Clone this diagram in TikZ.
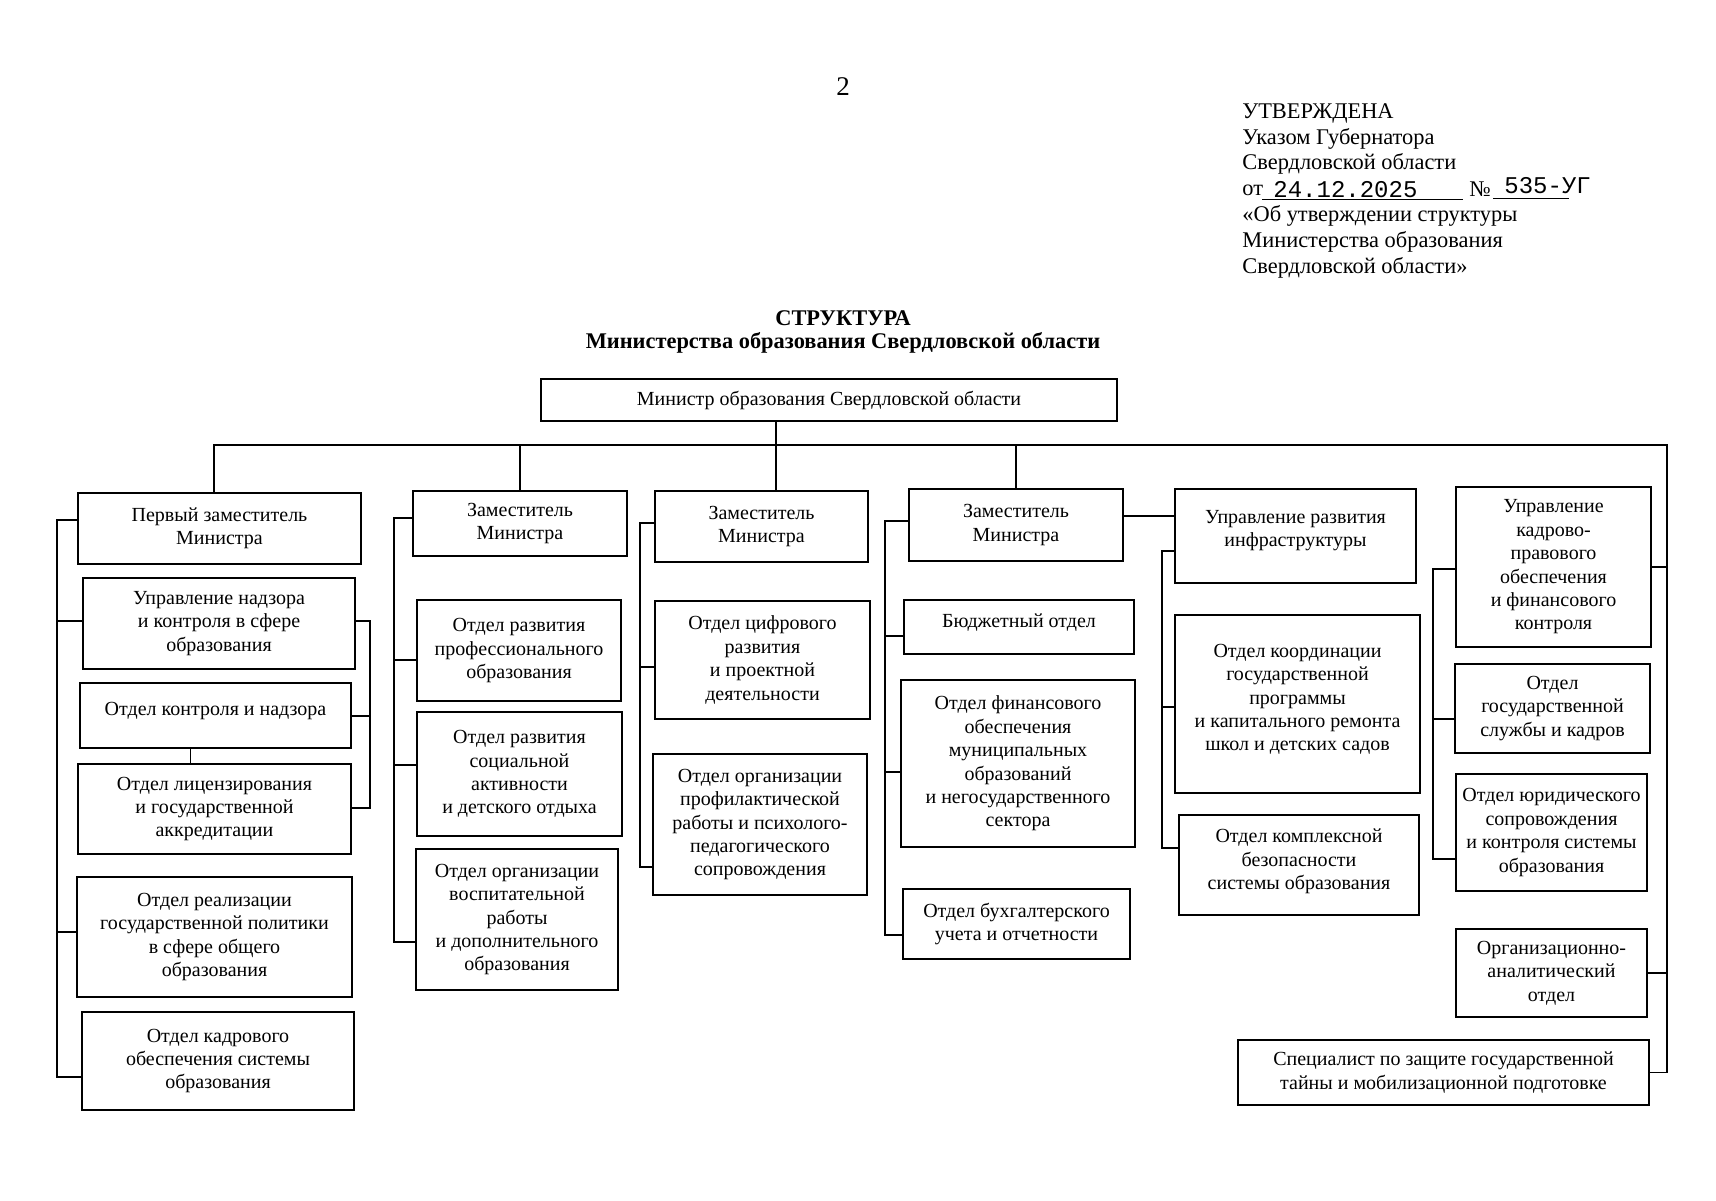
\documentclass[tikz,border=0pt]{standalone}
\usepackage{fontspec}
\setmainfont{Liberation Serif}
\newfontfamily\stampFont{Liberation Mono}
\usetikzlibrary{calc}

\newcommand{\boxFont}{\fontsize{10}{11.7}\selectfont}
\newcommand{\headFont}{\fontsize{11.2}{12.9}\selectfont}
\newcommand{\titleFont}{\fontsize{11.2}{11.5}\selectfont\bfseries}
\newcommand{\stampSize}{\stampFont\fontsize{12}{12}\selectfont}

\tikzset{boxDim/.style 2 args={minimum width=#1*0.5pt, minimum height=#2*0.5pt}}

\begin{document}
\begin{tikzpicture}[
		x=0.5pt, y=-0.5pt,
		% Node styles
		unitBox/.style={draw, line width=1pt, align=center, inner sep=0pt, font=\boxFont},
		headText/.style={align=left, anchor=base west, inner sep=0pt, font=\headFont},
		stampText/.style={anchor=base west, inner sep=0pt, font=\stampSize},
		% Line styles
		linkLine/.style={line width=0.6pt},
		formLine/.style={line width=0.5pt}
		]
		
		\fill[white] (0,0) rectangle (1716,1200);
		\useasboundingbox (0,0) rectangle (1716,1200);
		
		% =========================================================
		% 1. PAGE HEADER
		% =========================================================
		
		\node[font=\fontsize{13.5}{14}\selectfont, anchor=base, inner sep=0pt] (pageNo) at (843,95) {2};
		
		% base anchor = last line of the block
		\node[headText] (approval) at (1242,273) {УТВЕРЖДЕНА\\Указом Губернатора\\Свердловской области\\от\\«Об утверждении структуры\\Министерства образования\\Свердловской области»};
		
		% date and number of the decree
		\node[stampText] (dateStamp) at (1273,197) {24.12.2025};
		\node[headText] (numSign) at (1469,196) {№};
		\node[stampText] (numStamp) at (1504,193) {535-УГ};
		\draw[formLine] (1262,199) -- (1463,199);
		\draw[formLine] (1493,198) -- (1569,198);
		
		\node[font=\titleFont, align=center, anchor=base, inner sep=0pt] (title) at (843,348) {СТРУКТУРА\\Министерства образования Свердловской области};
		
		% =========================================================
		% 2. BOXES
		% =========================================================
		
		\node[unitBox, boxDim={576}{42}] (minister) at (829,400) {Министр образования Свердловской области};
		
		% First deputy
		\node[unitBox, boxDim={283}{71}] (zam1) at (219.5,528.5) {Первый заместитель\\Министра};
		\node[unitBox, boxDim={272}{91}] (upr1) at (219,623.5) {Управление надзора\\и контроля в сфере\\образования};
		\node[unitBox, boxDim={271}{65}, text depth=6.6pt] (ok1) at (215.5,715.5) {Отдел контроля и надзора};
		\node[unitBox, boxDim={273}{90}] (lic1) at (214.5,809) {Отдел лицензирования\\и государственной\\аккредитации};
		\node[unitBox, boxDim={275}{120}] (real1) at (214.5,937) {Отдел реализации\\государственной политики\\в сфере общего\\образования};
		\node[unitBox, boxDim={272}{98}] (kadr1) at (218,1061) {Отдел кадрового\\обеспечения системы\\образования};
		
		% Deputy 2
		\node[unitBox, boxDim={214}{65}] (zam2) at (520,523.5) {Заместитель\\Министра};
		\node[unitBox, boxDim={204}{101}] (prof2) at (519,650.5) {Отдел развития\\профессионального\\образования};
		\node[unitBox, boxDim={205}{124}] (soc2) at (519.5,774) {Отдел развития\\социальной\\активности\\и детского отдыха};
		\node[unitBox, boxDim={202}{141}] (vosp2) at (517,919.5) {Отдел организации\\воспитательной\\работы\\и дополнительного\\образования};
		
		% Deputy 3
		\node[unitBox, boxDim={213}{71}] (zam3) at (761.5,526.5) {Заместитель\\Министра};
		\node[unitBox, boxDim={215}{118}] (cifr3) at (762.5,660) {Отдел цифрового\\развития\\и проектной\\деятельности};
		\node[unitBox, boxDim={214}{141}] (prof3) at (760,824.5) {Отдел организации\\профилактической\\работы и психолого-\\педагогического\\сопровождения};
		
		% Deputy 4
		\node[unitBox, boxDim={214}{72}] (zam4) at (1016,525) {Заместитель\\Министра};
		\node[unitBox, boxDim={230}{54}, text depth=6.6pt] (bud4) at (1019,627) {Бюджетный отдел};
		\node[unitBox, boxDim={234}{167}] (fin4) at (1018,763.5) {Отдел финансового\\обеспечения\\муниципальных\\образований\\и негосударственного\\сектора};
		\node[unitBox, boxDim={227}{70}] (buh4) at (1016.5,924) {Отдел бухгалтерского\\учета и отчетности};
		
		% Infrastructure
		\node[unitBox, boxDim={241}{94}, text depth=7.6pt] (infra5) at (1295.5,536) {Управление развития\\инфраструктуры};
		\node[unitBox, boxDim={245}{178}, text depth=6.6pt] (koord5) at (1297.5,704) {Отдел координации\\государственной\\программы\\и капитального ремонта\\школ и детских садов};
		\node[unitBox, boxDim={240}{100}, text depth=5.6pt] (kompl5) at (1299,865) {Отдел комплексной\\безопасности\\системы образования};
		
		% Directly under the Minister
		\node[unitBox, boxDim={195}{160}] (kadr6) at (1553.5,567) {Управление\\кадрово-\\правового\\обеспечения\\и финансового\\контроля};
		\node[unitBox, boxDim={195}{89}] (gos6) at (1552.5,708.5) {Отдел\\государственной\\службы и кадров};
		\node[unitBox, boxDim={191}{117}] (yur6) at (1551.5,832.5) {Отдел юридического\\сопровождения\\и контроля системы\\образования};
		\node[unitBox, boxDim={191}{88}] (org6) at (1551.5,973) {Организационно-\\аналитический\\отдел};
		\node[unitBox, boxDim={411}{65}] (spec6) at (1443.5,1072.5) {Специалист по защите государственной\\тайны и мобилизационной подготовке};
		
		% =========================================================
		% 3. CONNECTORS
		% =========================================================
		
		% Bus under the Minister
		\coordinate (busL) at (214,445);
		\coordinate (busR) at (1667,445);
		\coordinate (trunk) at (776,445);
		\draw[linkLine] (busL |- zam1.north) -- (busL) -- (busR) |- (spec6.east);
		\draw[linkLine] (minister.south -| trunk) -- (zam3.north -| trunk);
		\draw[linkLine] (zam2.north) -- (zam2.north |- busL);
		\draw[linkLine] (zam4.north) -- (zam4.north |- busL);
		\draw[linkLine] (kadr6.east) -- (kadr6.east -| busR);
		\draw[linkLine] (org6.east) -- (org6.east -| busR);
		
		% First deputy
		\coordinate (jA1) at (57,520);
		\coordinate (jA2) at (57,621);
		\coordinate (jA3) at (57,932);
		\coordinate (jA4) at (57,1077);
		\draw[linkLine] (zam1.west |- jA1) -- (jA1) -- (jA4) -- (kadr1.west |- jA4);
		\draw[linkLine] (jA2) -- (upr1.west |- jA2);
		\draw[linkLine] (jA3) -- (real1.west |- jA3);
		\coordinate (jR1) at (370,621);
		\coordinate (jR2) at (370,716);
		\coordinate (jR3) at (370,808);
		\draw[linkLine] (upr1.east |- jR1) -- (jR1) -- (jR3) -- (lic1.east |- jR3);
		\draw[linkLine] (jR2) -- (ok1.east |- jR2);
		\draw[linkLine] ([xshift=-12.5pt]ok1.south) -- ([xshift=-12.5pt]ok1.south |- lic1.north);
		
		% Deputy 2
		\coordinate (jB1) at (394,518);
		\coordinate (jB2) at (394,660);
		\coordinate (jB3) at (394,765);
		\coordinate (jB4) at (394,942);
		\draw[linkLine] (zam2.west |- jB1) -- (jB1) -- (jB4) -- (vosp2.west |- jB4);
		\draw[linkLine] (jB2) -- (prof2.west |- jB2);
		\draw[linkLine] (jB3) -- (soc2.west |- jB3);
		
		% Deputy 3
		\coordinate (jC1) at (640,523);
		\coordinate (jC2) at (640,667);
		\coordinate (jC3) at (640,867);
		\draw[linkLine] (zam3.west |- jC1) -- (jC1) -- (jC3) -- (prof3.west |- jC3);
		\draw[linkLine] (jC2) -- (cifr3.west |- jC2);
		
		% Deputy 4
		\coordinate (jD1) at (885,521);
		\coordinate (jD2) at (885,636);
		\coordinate (jD3) at (885,772);
		\coordinate (jD4) at (885,935);
		\coordinate (jDI) at (1150,516);
		\draw[linkLine] (zam4.west |- jD1) -- (jD1) -- (jD4) -- (buh4.west |- jD4);
		\draw[linkLine] (jD2) -- (bud4.west |- jD2);
		\draw[linkLine] (jD3) -- (fin4.west |- jD3);
		\draw[linkLine] (zam4.east |- jDI) -- (infra5.west |- jDI);
		
		% Infrastructure
		\coordinate (jE1) at (1162,551);
		\coordinate (jE2) at (1162,707);
		\coordinate (jE3) at (1162,848);
		\draw[linkLine] (infra5.west |- jE1) -- (jE1) -- (jE3) -- (kompl5.west |- jE3);
		\draw[linkLine] (jE2) -- (koord5.west |- jE2);
		
		% Personnel and legal
		\coordinate (jF1) at (1433,569);
		\coordinate (jF2) at (1433,719);
		\coordinate (jF3) at (1433,859);
		\draw[linkLine] (kadr6.west |- jF1) -- (jF1) -- (jF3) -- (yur6.west |- jF3);
		\draw[linkLine] (jF2) -- (gos6.west |- jF2);
		
	\end{tikzpicture}
\end{document}
